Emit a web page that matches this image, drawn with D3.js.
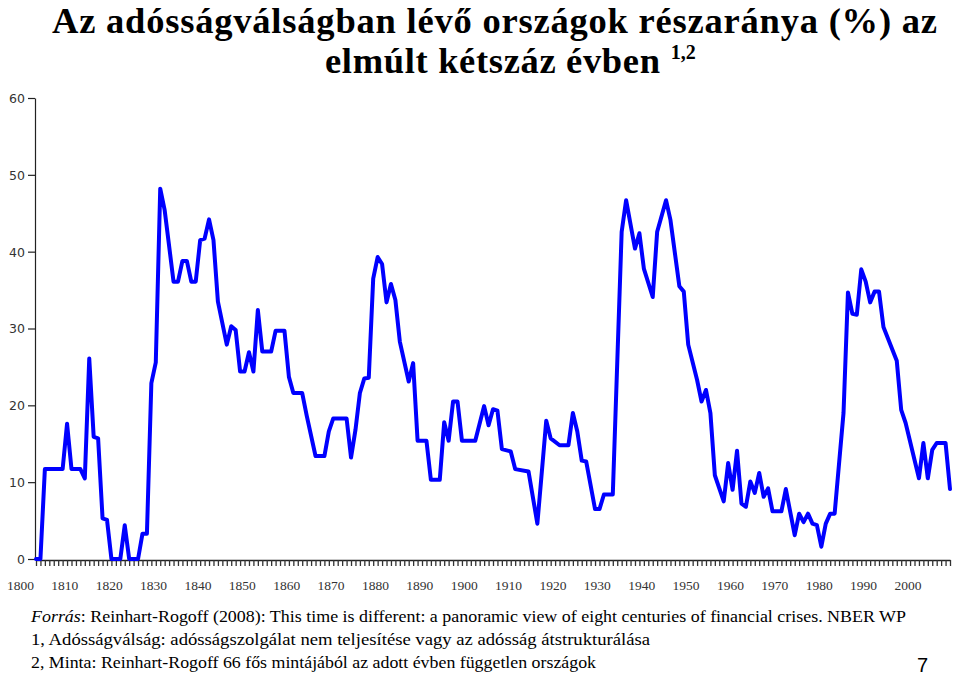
<!DOCTYPE html>
<html>
<head>
<meta charset="utf-8">
<script src="https://cdn.jsdelivr.net/npm/d3@7"></script>
<style>
  html, body { margin: 0; padding: 0; background: #fff; }
  svg { display: block; }
</style>
</head>
<body>
<svg id="chart" width="959" height="675"></svg>
<script>
// ---- data ----
const years = [1800,1801,1802,1806,1807,1808,1810,1811,1812,1813,1814,1815,1816,1817,1819,1820,1821,1823,1824,1825,
  1826,1827,1828,1829,1831,1832,1833,1834,1835,1836,1837,1838,1839,1840,1841,1842,1843,1844,1845,1846,
  1847,1848,1849,1850,1851,1853,1854,1856,1857,1858,1860,1861,1863,1865,1866,1867,1870,1871,1872,1873,
  1874,1875,1876,1877,1878,1879,1880,1881,1882,1884,1885,1886,1888,1889,1891,1892,1893,1894,1895,1896,
  1899,1901,1902,1903,1904,1905,1907,1908,1911,1913,1915,1916,1918,1920,1921,1922,1923,1924,1926,1927,
  1928,1930,1932,1933,1935,1936,1937,1939,1940,1942,1943,1945,1946,1947,1949,1950,1951,1952,1953,1955,
  1956,1957,1958,1959,1960,1961,1962,1963,1964,1965,1966,1968,1969,1971,1972,1973,1974,1975,1976,1977,
  1978,1979,1980,1982,1983,1984,1985,1986,1987,1988,1989,1990,1991,1994,1995,1996,1999,2000,2001,2002,
  2003,2005,2006];
const shares = [0,0,11.7,11.7,17.6,11.7,11.7,10.5,26.1,15.9,15.7,5.3,5.1,0,0,4.4,0,0,3.3,3.3,
  22.9,25.6,48.2,45.4,36.1,36.1,38.8,38.8,36.1,36.1,41.5,41.7,44.2,41.5,33.5,30.7,27.9,30.3,29.8,24.4,
  24.4,26.9,24.4,32.4,27.0,27.0,29.7,29.7,23.7,21.6,21.6,18.7,13.4,13.4,16.6,18.3,18.3,13.2,16.8,21.6,
  23.5,23.6,36.5,39.3,38.4,33.4,35.8,33.7,28.3,23.1,25.5,15.4,15.4,10.3,10.3,17.8,15.4,20.5,20.5,15.4,
  15.4,19.9,17.4,19.5,19.3,14.3,14.0,11.7,11.4,4.6,18.0,15.7,14.8,14.8,19.0,16.6,12.8,12.7,6.5,6.5,
  8.4,8.4,42.6,46.7,40.4,42.4,37.8,34.1,42.6,46.7,44.1,35.5,34.8,27.9,23.3,20.5,22.0,19.0,10.9,7.5,
  12.5,9.0,14.1,7.2,6.8,10.1,8.6,11.2,8.1,9.2,6.2,6.2,9.1,3.1,5.9,4.8,5.9,4.6,4.4,1.6,
  4.6,5.9,5.9,19.0,34.7,31.9,31.8,37.7,36.1,33.4,34.8,34.8,30.2,25.8,19.4,17.7,10.5,15.1,10.5,14.2,
  15.1,15.1,9.1];
const yTicks = [0,10,20,30,40,50,60];
const xLabelYears = [1800,1810,1820,1830,1840,1850,1860,1870,1880,1890,1900,1910,1920,1930,1940,1950,1960,1970,1980,1990,2000];
const titleLines = ["Az adósságválságban lévő országok részaránya (%) az", "elmúlt kétszáz évben"];
const titleSup = "1,2";
const notes = [
  {lead: "Forrás", rest: ": Reinhart-Rogoff (2008): This time is different: a panoramic view of eight centuries of financial crises. NBER WP"},
  {lead: "", rest: "1, Adósságválság: adósságszolgálat nem teljesítése vagy az adósság átstrukturálása"},
  {lead: "", rest: "2, Minta: Reinhart-Rogoff 66 fős mintájából az adott évben független országok"}
];
const pageNumber = "7";

// ---- layout ----
const SERIF = "'Liberation Serif'";
const SANS = "'Liberation Sans'";
const TICKFONT = "'DejaVu Sans'";
const svg = d3.select("#chart");
const x = d3.scaleLinear().domain([1800, 2006]).range([36, 950]);
const y = d3.scaleLinear().domain([0, 60]).range([559, 98]);

// title
const TITLE_FS = 36.5;
const t1 = svg.append("text").style("font-family", SERIF).attr("x", 52).attr("y", 32.5)
  .attr("font-weight", "bold").attr("font-size", TITLE_FS).attr("fill", "#000").text(titleLines[0]);
t1.attr("textLength", 885).attr("lengthAdjust", "spacing");
const t2 = svg.append("text").style("font-family", SERIF).attr("x", 325).attr("y", 73)
  .attr("font-weight", "bold").attr("font-size", TITLE_FS).attr("fill", "#000");
t2.append("tspan").attr("textLength", 335).attr("lengthAdjust", "spacing").text(titleLines[1]);
t2.append("tspan").attr("font-size", 20).attr("dx", 10).attr("dy", -14).text(titleSup);

// y axis
const yAxis = svg.append("g").attr("transform", "translate(35,0)")
  .call(d3.axisLeft(y).tickValues(yTicks).tickSize(7).tickSizeOuter(0).tickFormat(d3.format("d")));
yAxis.select(".domain").attr("stroke", "#222").attr("stroke-width", 1.2);
yAxis.selectAll(".tick line").attr("stroke", "#222").attr("stroke-width", 1.2);
yAxis.selectAll(".tick text").style("font-family", TICKFONT)
  .attr("font-size", 12.5).attr("fill", "#333").attr("x", -10).attr("dy", "0.35em");

// x axis (yearly ticks)
const yearTicks = d3.range(1800, 2007);
const xAxis = svg.append("g").attr("transform", "translate(0,560)")
  .call(d3.axisBottom(x).tickValues(yearTicks).tickSize(6).tickSizeOuter(0).tickFormat(""));
xAxis.select(".domain").attr("stroke", "#222").attr("stroke-width", 1.5);
xAxis.selectAll(".tick line").attr("stroke", "#333").attr("stroke-width", 1.3);

svg.append("g").selectAll("text").data(xLabelYears).join("text")
  .style("font-family", SERIF)
  .attr("x", d => x(d) - 15.5).attr("y", 590)
  .attr("text-anchor", "middle")
  .attr("font-size", 13.5).attr("fill", "#333")
  .text(d => d);

// line
const pts = years.map((yr, i) => [yr, shares[i]]);
svg.append("path").datum(pts)
  .attr("fill", "none").attr("stroke", "#0000ff").attr("stroke-width", 4)
  .attr("stroke-linejoin", "round").attr("stroke-linecap", "round")
  .attr("d", d3.line().x(d => x(d[0])).y(d => y(d[1])));

// notes
const noteTargets = [875, 619, 565];
notes.forEach((n, i) => {
  const t = svg.append("text").style("font-family", SERIF).attr("x", 31).attr("y", 622 + i * 23)
    .attr("font-size", 17).attr("fill", "#000");
  if (n.lead) t.append("tspan").attr("font-style", "italic").text(n.lead);
  t.append("tspan").text(n.rest);
  t.attr("textLength", noteTargets[i]).attr("lengthAdjust", "spacingAndGlyphs");
});

svg.append("text").style("font-family", SANS).attr("x", 917).attr("y", 672)
  .attr("font-size", 20).attr("fill", "#000").text(pageNumber);
</script>
</body>
</html>
